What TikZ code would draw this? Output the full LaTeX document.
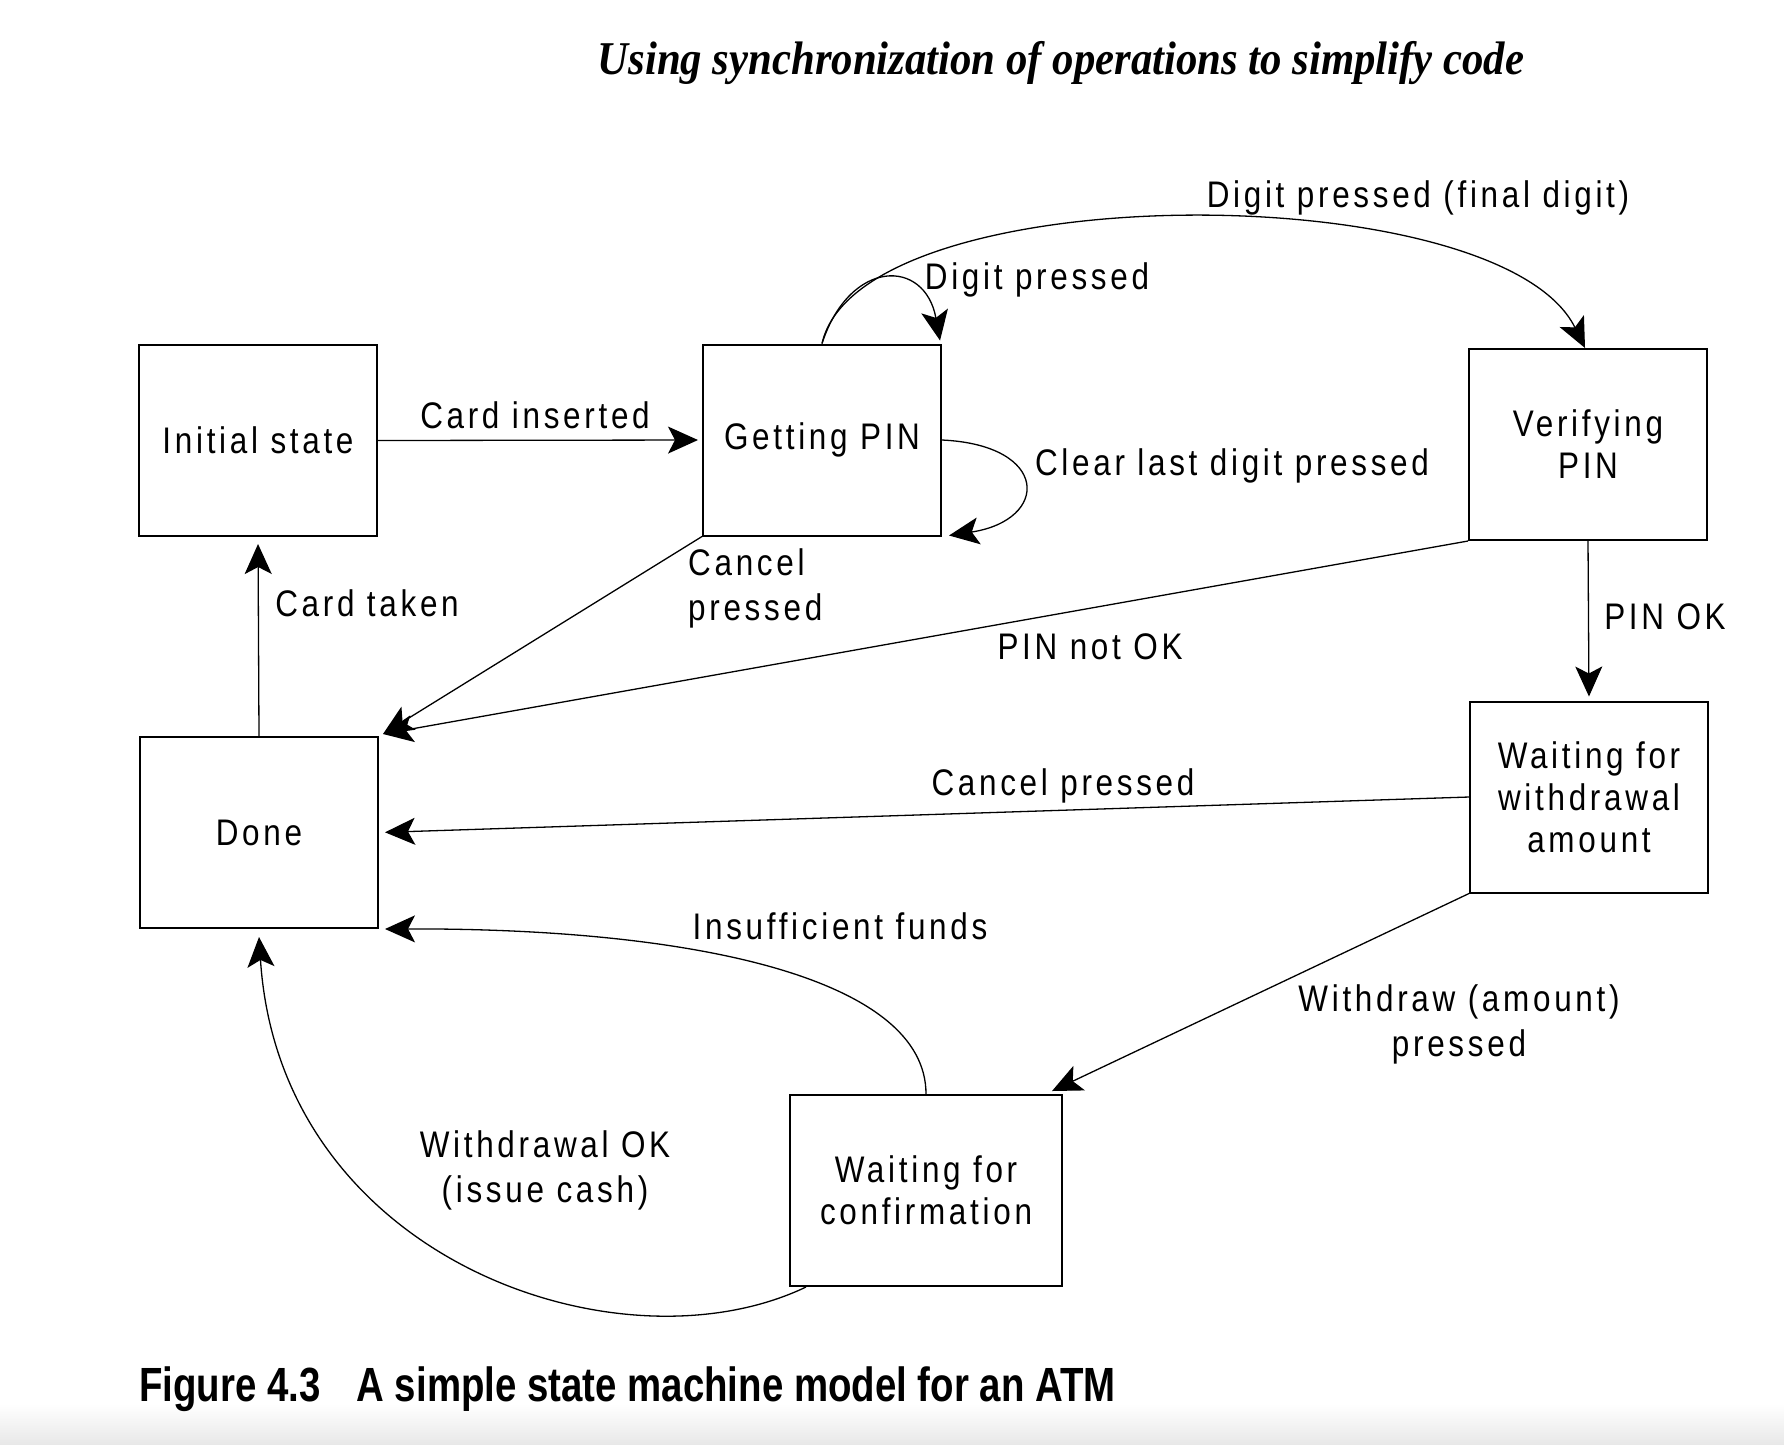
\documentclass[tikz,border=0pt]{standalone}
\usepackage{fontspec}
\setmainfont{Liberation Sans}
\newfontfamily\labfont[FakeStretch=0.85,LetterSpace=10]{Liberation Sans}
\newfontfamily\titlefont[FakeStretch=0.91]{Liberation Serif}
\newfontfamily\capfont[FakeStretch=0.8]{Liberation Sans}
\usetikzlibrary{arrows.meta,shadings}
\tikzset{
  state/.style={draw=black,line width=2pt,fill=white,minimum width=238pt,minimum height=191pt,
    inner sep=0pt,align=center,font=\labfont\fontsize{37}{42}\selectfont},
  lbl/.style={inner sep=0pt,align=center,font=\labfont\fontsize{37}{45}\selectfont},
  conn/.style={draw=black,line width=1.3pt,-{Stealth[length=30pt,width=27pt,inset=7pt]}},
}
\begin{document}
\begin{tikzpicture}[x=1pt,y=-1pt]
\useasboundingbox (0,0) rectangle (1784,1444);
\fill[white] (0,0) rectangle (1784,1444);
\shade[top color=white,bottom color=black!9] (0,1404) rectangle (1784,1444);

% title and caption
\node[inner sep=0pt] (title) at (1061,63) {\titlefont\bfseries\itshape\fontsize{47}{52}\selectfont Using synchronization of operations to simplify code};
\node[inner sep=0pt,anchor=west] (caption) at (139,1389) {\capfont\bfseries\fontsize{48}{54}\selectfont Figure 4.3\hspace{36pt}A simple state machine model for an ATM};

% states
\node[state] (init)   at (258,440.5) {Initial state};
\node[state] (getpin) at (822,440)   {Getting PIN};
\node[state] (verify) at (1588,444.5){Verifying\\PIN};
\node[state] (waitw)  at (1589,797)  {Waiting for\\withdrawal\\amount};
\node[state] (done)   at (259,832.5) {Done};
\node[state,minimum width=272pt] (waitc) at (926,1190.5) {Waiting for\\confirmation};

% connectors
\draw[conn,shorten >=4pt] (init.east) -- (getpin.west);
\draw[conn] (getpin.north) .. controls (850,258) and (925,258) .. ([xshift=-2pt,yshift=3pt]getpin.north east);
\draw[conn] (getpin.north) .. controls (860,175) and (1500,175) .. ([xshift=-3pt]verify.north);
\draw[conn] (getpin.east) .. controls (1050,445) and (1050,520) .. ([xshift=7pt,yshift=1pt]getpin.south east);
\draw[conn] (getpin.south west) -- ([xshift=4pt,yshift=2pt]done.north east);
\draw[conn] (verify.south west) -- ([xshift=4pt,yshift=2pt]done.north east);
\draw[conn,shorten >=4pt] (verify.south) -- (waitw.north);
\draw[conn,shorten >=6pt] (waitw.west) -- (done.east);
\draw[conn] (waitw.south west) -- ([xshift=-11pt,yshift=3pt]waitc.north east);
\draw[conn,shorten >=6pt] (waitc.north) .. controls (926,980) and (700,928) .. (done.south east);
\draw[conn] ([xshift=17pt]waitc.south west) .. controls (620,1376) and (280,1260) .. ([yshift=-8pt]done.south);
\draw[conn,shorten >=7pt] (done.north) -- (init.south);

% labels
\node[lbl] (l1) at (535,415) {Card inserted};
\node[lbl] (l2) at (1037,280) {Digit pressed};
\node[lbl] (l3) at (1418,198) {Digit pressed (final digit)};
\node[lbl] (l4) at (1232,466) {Clear last digit pressed};
\node[lbl,align=left,anchor=west] (l5) at (688,588) {Cancel\\pressed};
\node[lbl] (l6) at (367,603) {Card taken};
\node[lbl] (l7) at (1090,647) {PIN not OK};
\node[lbl] (l8) at (1665,617) {PIN OK};
\node[lbl] (l9) at (1063,786) {Cancel pressed};
\node[lbl] (l10) at (840,926) {Insufficient funds};
\node[lbl] (l11) at (1459,1024) {Withdraw (amount)\\pressed};
\node[lbl] (l12) at (545,1170) {Withdrawal OK\\(issue cash)};
\end{tikzpicture}
\end{document}
